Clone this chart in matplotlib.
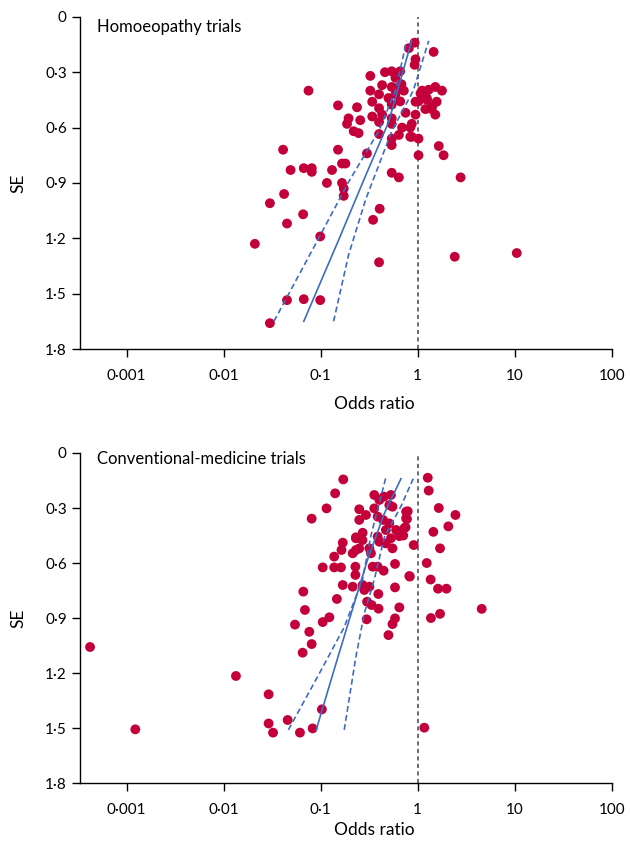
import matplotlib
matplotlib.use("Agg")
import matplotlib.pyplot as plt

plt.rcParams['font.family'] = ['Lato', 'DejaVu Sans']

# Homoeopathy trials: odds ratio and standard error of each trial
homoeo_or = [0.93, 0.81, 1.46, 0.95, 0.93, 0.325, 0.46, 0.54, 0.66, 0.59,
             0.43, 0.54, 0.64, 0.72, 1.11, 1.30, 1.52, 1.78, 0.075, 0.325,
             0.40, 0.50, 0.59, 0.151, 0.237, 0.34, 0.40, 0.54, 0.66, 1.02,
             1.25, 1.41, 1.52, 0.194, 0.256, 0.34, 0.43, 0.54, 0.75, 0.95,
             1.20, 0.187, 0.219, 0.246, 0.40, 0.54, 0.69, 0.84, 0.40, 0.54,
             0.64, 0.84, 1.02, 0.041, 0.151, 0.54, 1.65, 1.85, 1.02, 0.30,
             0.049, 0.067, 0.081, 0.081, 0.131, 0.166, 0.18, 0.54, 0.64, 0.116,
             0.166, 0.173, 0.173, 0.042, 0.030, 0.406, 0.347, 0.066, 0.045, 0.099,
             0.021, 0.40, 0.045, 0.067, 0.099, 0.030, 2.77, 2.41, 10.5, 1.24,
             1.57, 1.39, 0.95, 0.87, 0.87, 1.07, 0.68]
homoeo_se = [0.14, 0.17, 0.19, 0.23, 0.26, 0.32, 0.30, 0.295, 0.295, 0.33,
             0.37, 0.38, 0.38, 0.40, 0.40, 0.395, 0.38, 0.40, 0.40, 0.40,
             0.42, 0.44, 0.42, 0.48, 0.49, 0.46, 0.495, 0.476, 0.458, 0.458,
             0.45, 0.485, 0.53, 0.55, 0.56, 0.54, 0.53, 0.55, 0.52, 0.53,
             0.50, 0.58, 0.62, 0.63, 0.57, 0.58, 0.60, 0.60, 0.635, 0.66,
             0.64, 0.65, 0.66, 0.72, 0.72, 0.695, 0.70, 0.75, 0.75, 0.74,
             0.83, 0.82, 0.82, 0.84, 0.83, 0.795, 0.795, 0.845, 0.87, 0.90,
             0.90, 0.93, 0.97, 0.96, 1.01, 1.04, 1.10, 1.07, 1.12, 1.19,
             1.23, 1.33, 1.535, 1.53, 1.535, 1.66, 0.87, 1.30, 1.28, 0.44,
             0.46, 0.50, 0.46, 0.58, 0.65, 0.415, 0.365]

# regression line and its confidence limits (SE, OR)
homoeo_fit_se = [1.65, 1.21, 0.86, 0.57, 0.13]
homoeo_fit_or = [0.067, 0.153, 0.291, 0.502, 0.867]
homoeo_lo_se = [1.65, 1.18, 0.895, 0.62, 0.40, 0.13]
homoeo_lo_or = [0.033, 0.100, 0.194, 0.396, 0.59, 0.77]
homoeo_hi_se = [1.65, 1.29, 0.99, 0.62, 0.40, 0.13]
homoeo_hi_or = [0.136, 0.194, 0.291, 0.54, 0.90, 1.30]

# Conventional-medicine trials
conv_or = [0.00042, 0.00123, 0.0134, 0.0291, 0.0291, 0.0323, 0.0457, 0.0612, 0.0827, 0.103,
           0.0652, 0.0808, 0.0764, 0.0544, 0.0689, 0.0663, 0.0808, 0.115, 0.141, 0.171,
           0.105, 0.123, 0.147, 0.169, 0.138, 0.162, 0.105, 0.138, 0.164, 0.169,
           0.231, 0.231, 0.25, 0.25, 0.293, 0.357, 0.357, 0.403, 0.45, 0.53,
           0.51, 0.55, 0.387, 0.51, 0.76, 0.76, 0.73, 0.647, 0.91, 0.271,
           0.231, 0.27, 0.25, 0.387, 0.403, 0.47, 0.55, 0.318, 0.33, 0.214,
           0.228, 0.228, 0.344, 0.446, 0.584, 0.82, 0.214, 0.271, 0.282, 0.318,
           0.393, 0.301, 0.335, 0.395, 0.298, 0.584, 0.647, 0.584, 0.55, 0.50,
           1.27, 1.30, 1.65, 2.45, 2.07, 1.45, 1.70, 1.24, 1.36, 1.62,
           1.98, 4.57, 1.37, 1.70, 1.17, 0.387, 0.47, 0.44, 0.53, 0.60,
           0.79, 0.776, 0.75, 0.71, 0.83]
conv_se = [1.058, 1.507, 1.216, 1.316, 1.475, 1.525, 1.456, 1.525, 1.502, 1.398,
           1.089, 1.042, 0.975, 0.936, 0.856, 0.756, 0.358, 0.302, 0.22, 0.144,
           0.922, 0.896, 0.796, 0.72, 0.624, 0.624, 0.624, 0.565, 0.529, 0.489,
           0.529, 0.46, 0.365, 0.307, 0.338, 0.229, 0.302, 0.256, 0.238, 0.229,
           0.284, 0.293, 0.347, 0.384, 0.32, 0.356, 0.41, 0.453, 0.502, 0.435,
           0.465, 0.475, 0.52, 0.456, 0.484, 0.493, 0.52, 0.52, 0.547, 0.547,
           0.62, 0.665, 0.62, 0.642, 0.605, 0.671, 0.729, 0.72, 0.747, 0.729,
           0.769, 0.811, 0.829, 0.849, 0.907, 0.733, 0.842, 0.902, 0.933, 0.993,
           0.135, 0.205, 0.30, 0.338, 0.40, 0.43, 0.52, 0.60, 0.69, 0.74,
           0.74, 0.85, 0.90, 0.877, 1.498, 0.62, 0.42, 0.365, 0.465, 0.42,
           0.318, 0.36, 0.405, 0.45, 0.674]

conv_fit_se = [1.51, 1.18, 0.82, 0.58, 0.33, 0.14]
conv_fit_or = [0.090, 0.138, 0.222, 0.305, 0.453, 0.673]
conv_lo_se = [1.51, 1.22, 0.95, 0.69, 0.45, 0.13]
conv_lo_or = [0.0465, 0.093, 0.175, 0.27, 0.33, 0.472]
conv_hi_se = [1.51, 1.11, 0.875, 0.69, 0.46, 0.29, 0.14]
conv_hi_or = [0.175, 0.231, 0.282, 0.357, 0.453, 0.673, 0.90]

x_ticks = [0.001, 0.01, 0.1, 1, 10, 100]
x_labels = ["0·001", "0·01", "0·1", "1", "10", "100"]
y_ticks = [0, 0.3, 0.6, 0.9, 1.2, 1.5, 1.8]
y_labels = ["0", "0·3", "0·6", "0·9", "1·2", "1·5", "1·8"]

red = "#c3003a"
blue = "#3d6cc2"


def funnel(ax, title, title_y, xlab_y, pts_or, pts_se, fit, lo, hi):
    ax.scatter(pts_or, pts_se, s=50, color=red, edgecolors="none", zorder=2)
    ax.plot(fit[1], fit[0], color=blue, lw=1.2, zorder=3)
    for se, orr in (lo, hi):
        ax.plot(orr, se, color=blue, lw=1.2, linestyle=(0, (3.5, 2)), zorder=3)
    ax.axvline(1, color="#555555", lw=1.2, linestyle=(0, (2.5, 2)), zorder=1)

    ax.set_xscale("log")
    ax.set_xlim(10 ** -3.48, 100)
    ax.set_ylim(1.8, 0)
    ax.set_xticks(x_ticks)
    ax.set_xticklabels(x_labels)
    ax.minorticks_off()
    ax.set_yticks(y_ticks)
    ax.set_yticklabels(y_labels)
    ax.tick_params(axis="both", direction="out", length=5.5, width=1, labelsize=11)
    ax.tick_params(axis="x", pad=9)
    ax.tick_params(axis="y", pad=4)
    for s in ["top", "right"]:
        ax.spines[s].set_visible(False)
    for s in ["left", "bottom"]:
        ax.spines[s].set_linewidth(1)

    ax.set_xlabel("Odds ratio", fontsize=12.5)
    ax.xaxis.set_label_coords(0.553, xlab_y)
    ax.set_ylabel("SE", fontsize=12.5)
    ax.yaxis.set_label_coords(-0.1, 0.5)
    ax.text(0.032, title_y, title, transform=ax.transAxes, fontsize=12, va="center", ha="left")


fig = plt.figure(figsize=(6.3, 8.42), dpi=100)
ax1 = fig.add_axes([0.127, 0.5855, 0.844, 0.3945])
ax2 = fig.add_axes([0.127, 0.070, 0.844, 0.392])

funnel(ax1, "Homoeopathy trials", 0.97, -0.142, homoeo_or, homoeo_se,
       (homoeo_fit_se, homoeo_fit_or), (homoeo_lo_se, homoeo_lo_or), (homoeo_hi_se, homoeo_hi_or))
funnel(ax2, "Conventional-medicine trials", 0.982, -0.118, conv_or, conv_se,
       (conv_fit_se, conv_fit_or), (conv_lo_se, conv_lo_or), (conv_hi_se, conv_hi_or))

fig.savefig("out.png", dpi=100)
